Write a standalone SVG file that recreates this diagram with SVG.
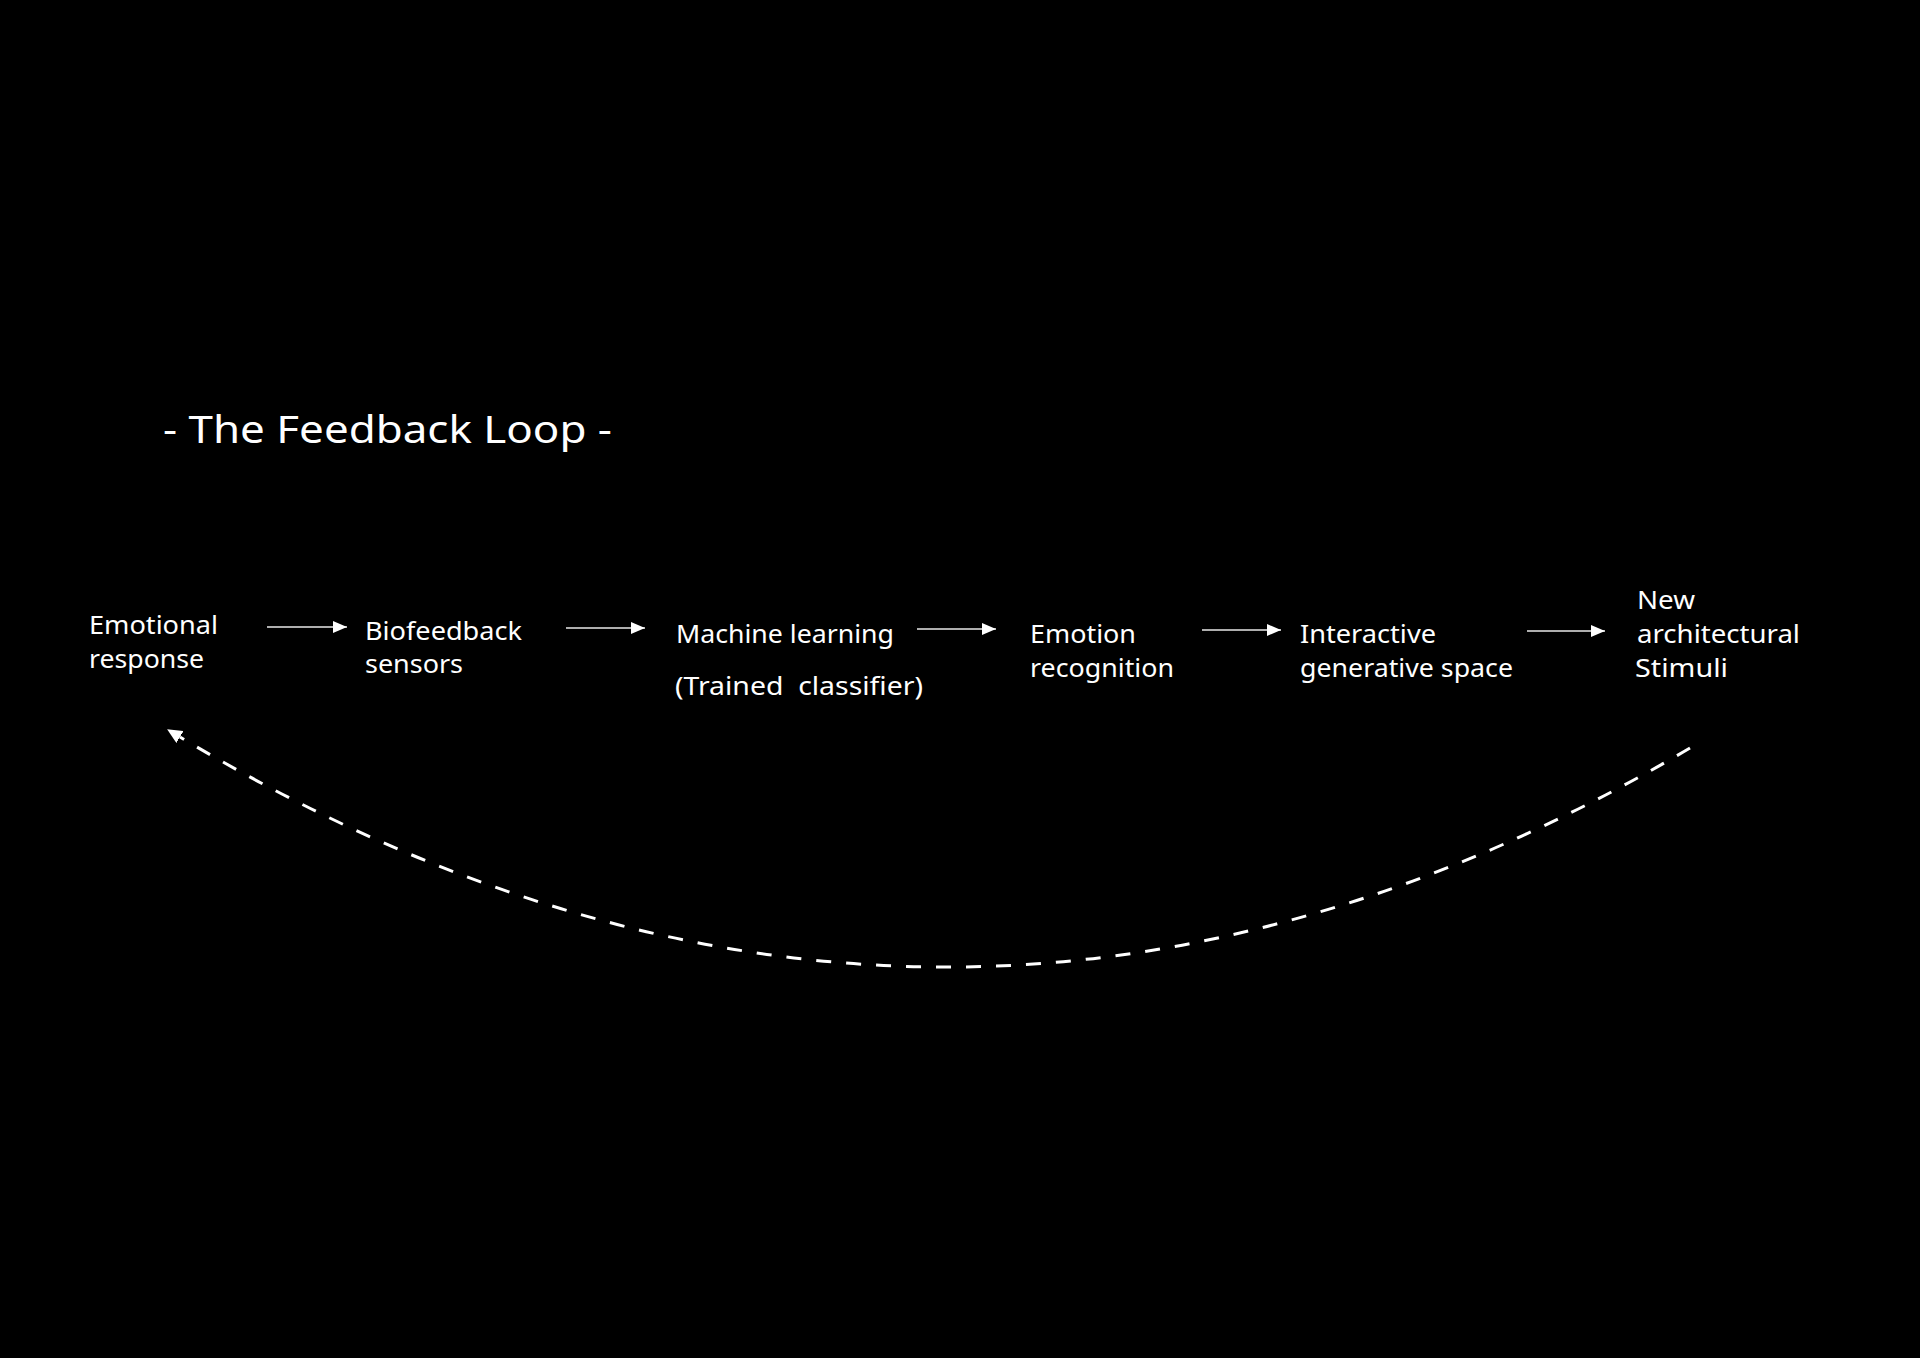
<svg xmlns="http://www.w3.org/2000/svg" width="1920" height="1358" viewBox="0 0 1920 1358">
  <style>
    .bg { fill: #000000; }
    .title { font-family: "Noto Sans", "Open Sans", sans-serif; font-size: 39px; fill: #ffffff; }
    .lbl { font-family: "Noto Sans", "Open Sans", sans-serif; font-size: 26px; fill: #ffffff; }
    .flow { stroke: #e8e8e8; stroke-width: 1.6; fill: none; }
    .loop { stroke: #ffffff; stroke-width: 3; fill: none; stroke-dasharray: 15 15; }
  </style>
  <defs>
    <marker id="head" markerUnits="userSpaceOnUse" markerWidth="14" markerHeight="12" refX="14" refY="6" orient="auto">
      <path d="M0,0 L14,6 L0,12 Z" fill="#ffffff"/>
    </marker>
    <marker id="loophead" markerUnits="userSpaceOnUse" markerWidth="16" markerHeight="14" refX="0" refY="7" orient="auto">
      <path d="M0,0 L15,7 L0,14 Z" fill="#ffffff"/>
    </marker>
  </defs>
  <rect class="bg" x="0" y="0" width="1920" height="1358"/>

  <g id="title">
    <text class="title" x="163" y="443" textLength="449" lengthAdjust="spacingAndGlyphs">- The Feedback Loop -</text>
  </g>

  <g id="node-emotional-response">
    <text class="lbl" x="89" y="634" textLength="129" lengthAdjust="spacingAndGlyphs">Emotional</text>
    <text class="lbl" x="89" y="668" textLength="115" lengthAdjust="spacingAndGlyphs">response</text>
  </g>
  <g id="node-biofeedback-sensors">
    <text class="lbl" x="365" y="640" textLength="157" lengthAdjust="spacingAndGlyphs">Biofeedback</text>
    <text class="lbl" x="365" y="673" textLength="98" lengthAdjust="spacingAndGlyphs">sensors</text>
  </g>
  <g id="node-machine-learning">
    <text class="lbl" x="676" y="643" textLength="218" lengthAdjust="spacingAndGlyphs">Machine learning</text>
    <text class="lbl" x="675" y="695" textLength="248" lengthAdjust="spacingAndGlyphs" xml:space="preserve">(Trained  classifier)</text>
  </g>
  <g id="node-emotion-recognition">
    <text class="lbl" x="1030" y="643" textLength="106" lengthAdjust="spacingAndGlyphs">Emotion</text>
    <text class="lbl" x="1030" y="677" textLength="144" lengthAdjust="spacingAndGlyphs">recognition</text>
  </g>
  <g id="node-interactive-space">
    <text class="lbl" x="1300" y="643" textLength="136" lengthAdjust="spacingAndGlyphs">Interactive</text>
    <text class="lbl" x="1300" y="677" textLength="213" lengthAdjust="spacingAndGlyphs">generative space</text>
  </g>
  <g id="node-new-stimuli">
    <text class="lbl" x="1637" y="609" textLength="58" lengthAdjust="spacingAndGlyphs">New</text>
    <text class="lbl" x="1637" y="643" textLength="163" lengthAdjust="spacingAndGlyphs">architectural</text>
    <text class="lbl" x="1635" y="677" textLength="93" lengthAdjust="spacingAndGlyphs">Stimuli</text>
  </g>

  <g id="connectors">
    <path class="flow" d="M267,627 L347,627" marker-end="url(#head)"/>
    <path class="flow" d="M566,628 L645,628" marker-end="url(#head)"/>
    <path class="flow" d="M917,629 L996,629" marker-end="url(#head)"/>
    <path class="flow" d="M1202,630 L1281,630" marker-end="url(#head)"/>
    <path class="flow" d="M1527,631 L1605,631" marker-end="url(#head)"/>
    <path class="loop" d="M1690,748 Q939,1191.5 180,737" marker-end="url(#loophead)"/>
  </g>
</svg>
